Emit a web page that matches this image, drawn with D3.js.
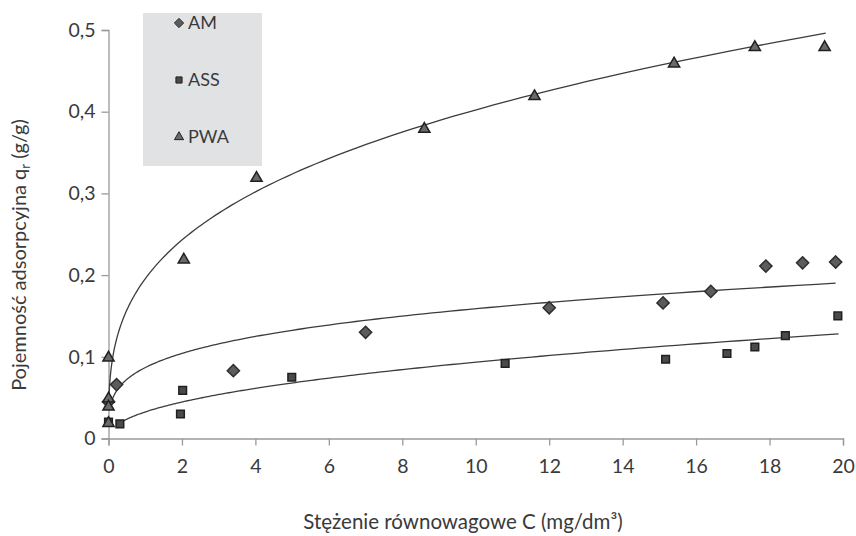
<!DOCTYPE html>
<html>
<head>
<meta charset="utf-8">
<script src="https://cdnjs.cloudflare.com/ajax/libs/d3/7.8.5/d3.min.js"></script>
<style>
  html, body { margin: 0; padding: 0; background: #fff; }
  svg { display: block; }
  text { font-family: Lato, "Open Sans", sans-serif; fill: #3a3a3a; }
</style>
</head>
<body>
<svg id="chart" width="856" height="536"></svg>
<script>
// Measured points: equilibrium concentration C (mg/dm3) and capacity q (g/g)
const amX  = [0, 0.22, 3.4, 7.0, 12.0, 15.1, 16.4, 17.9, 18.9, 19.8];
const amY  = [0.045, 0.066, 0.083, 0.130, 0.160, 0.166, 0.180, 0.211, 0.215, 0.216];

const assX = [0, 0.31, 1.96, 2.02, 4.99, 10.8, 15.17, 16.84, 17.6, 18.43, 19.86];
const assY = [0.02, 0.018, 0.030, 0.059, 0.075, 0.092, 0.097, 0.104, 0.112, 0.126, 0.150];

const pwaX = [0, 0, 0, 0, 2.05, 4.03, 8.6, 11.6, 15.4, 17.6, 19.5];
const pwaY = [0.10, 0.05, 0.04, 0.02, 0.22, 0.32, 0.38, 0.42, 0.46, 0.48, 0.48];

// Power-law (Freundlich) trend lines q = K * C^n, drawn over [from, to]
const seriesNames = ["AM", "ASS", "PWA"];
const fitK    = [0.0868, 0.0325, 0.1955];
const fitN    = [0.2625, 0.4585, 0.3133];
const fitFrom = [0.09, 0.3, 0.013];
const fitTo   = [19.8, 19.88, 19.53];

const xTicks = [0, 2, 4, 6, 8, 10, 12, 14, 16, 18, 20];
const yTicks = [0, 0.1, 0.2, 0.3, 0.4, 0.5];

const svg = d3.select("#chart");
const x = d3.scaleLinear().domain([0, 20]).range([108.5, 843]);
const y = d3.scaleLinear().domain([0, 0.5]).range([438.5, 30]);

const axisColor = "#9a9a9a";

// Axes
const xAxis = svg.append("g").attr("transform", `translate(0,${y(0)})`)
  .call(d3.axisBottom(x).tickValues(xTicks).tickSize(7).tickPadding(14)
        .tickFormat(d3.format("d")));
const yAxis = svg.append("g").attr("transform", `translate(${x(0)},0)`)
  .call(d3.axisLeft(y).tickValues(yTicks).tickSize(7).tickPadding(6)
        .tickFormat(d => d === 0 ? "0" : d3.format(".1f")(d).replace(".", ",")));
[xAxis, yAxis].forEach(g => {
  g.select(".domain").attr("stroke", axisColor).attr("stroke-width", 1.3);
  g.selectAll(".tick line").attr("stroke", axisColor).attr("stroke-width", 1.3);
  g.selectAll(".tick text").attr("font-size", 19.5).attr("fill", "#3a3a3a")
    .attr("font-family", "Lato, 'Open Sans', sans-serif");
});

// Legend panel
const legend = svg.append("g");
legend.append("rect").attr("x", 143).attr("y", 13).attr("width", 119).attr("height", 153)
  .attr("fill", "#e1e2e4");

// Trend lines
const line = d3.line().x(d => x(d[0])).y(d => y(d[1]));
seriesNames.forEach((name, i) => {
  const pts = d3.range(0, 201).map(k => {
    const t = fitFrom[i] * Math.pow(fitTo[i] / fitFrom[i], k / 200);
    return [t, fitK[i] * Math.pow(t, fitN[i])];
  });
  svg.append("path").datum(pts).attr("d", line)
    .attr("fill", "none").attr("stroke", "#3c3c3c").attr("stroke-width", 1.3);
});

// Marker shapes
const diamond = d3.symbol().type(d3.symbolDiamond2).size(95);
const square  = d3.symbol().type(d3.symbolSquare2).size(75);
const triangle = d3.symbol().type(d3.symbolTriangle2).size(90);

const markerSpec = [
  { xs: amX,  ys: amY,  sym: diamond,  fill: "#5c5c5c", stroke: "#2e2e2e", dy: 0 },
  { xs: assX, ys: assY, sym: square,   fill: "#4a4a4a", stroke: "#202020", dy: 0 },
  { xs: pwaX, ys: pwaY, sym: triangle, fill: "#6a6a6a", stroke: "#202020", dy: 1 }
];

markerSpec.forEach(s => {
  svg.append("g").selectAll("path").data(s.xs.map((v, i) => [v, s.ys[i]])).join("path")
    .attr("d", s.sym)
    .attr("transform", d => `translate(${x(d[0])},${y(d[1]) + s.dy})`)
    .attr("fill", s.fill).attr("stroke", s.stroke).attr("stroke-width", 1.5);
});

// Legend entries
const legendY = [23, 80, 137];
markerSpec.forEach((s, i) => {
  legend.append("path")
    .attr("d", (i === 0 ? d3.symbol().type(d3.symbolDiamond2).size(55)
              : i === 1 ? d3.symbol().type(d3.symbolSquare2).size(48)
              : d3.symbol().type(d3.symbolTriangle2).size(60))())
    .attr("transform", `translate(179,${legendY[i]})`)
    .attr("fill", s.fill).attr("stroke", s.stroke).attr("stroke-width", 1);
  legend.append("text").attr("x", 188).attr("y", legendY[i] + 6)
    .attr("font-size", 18).text(seriesNames[i]);
});

// Axis titles
svg.append("text").attr("x", 463).attr("y", 529).attr("text-anchor", "middle")
  .attr("font-size", 20.5)
  .text("Stężenie równowagowe C (mg/dm³)");

const yt = svg.append("text").attr("transform", "translate(26,255) rotate(-90)")
  .attr("text-anchor", "middle").attr("font-size", 20);
yt.append("tspan").text("Pojemność adsorpcyjna  q");
yt.append("tspan").attr("font-size", 13).attr("dy", 4).text("r");
yt.append("tspan").attr("dy", -4).text(" (g/g)");
</script>
</body>
</html>
